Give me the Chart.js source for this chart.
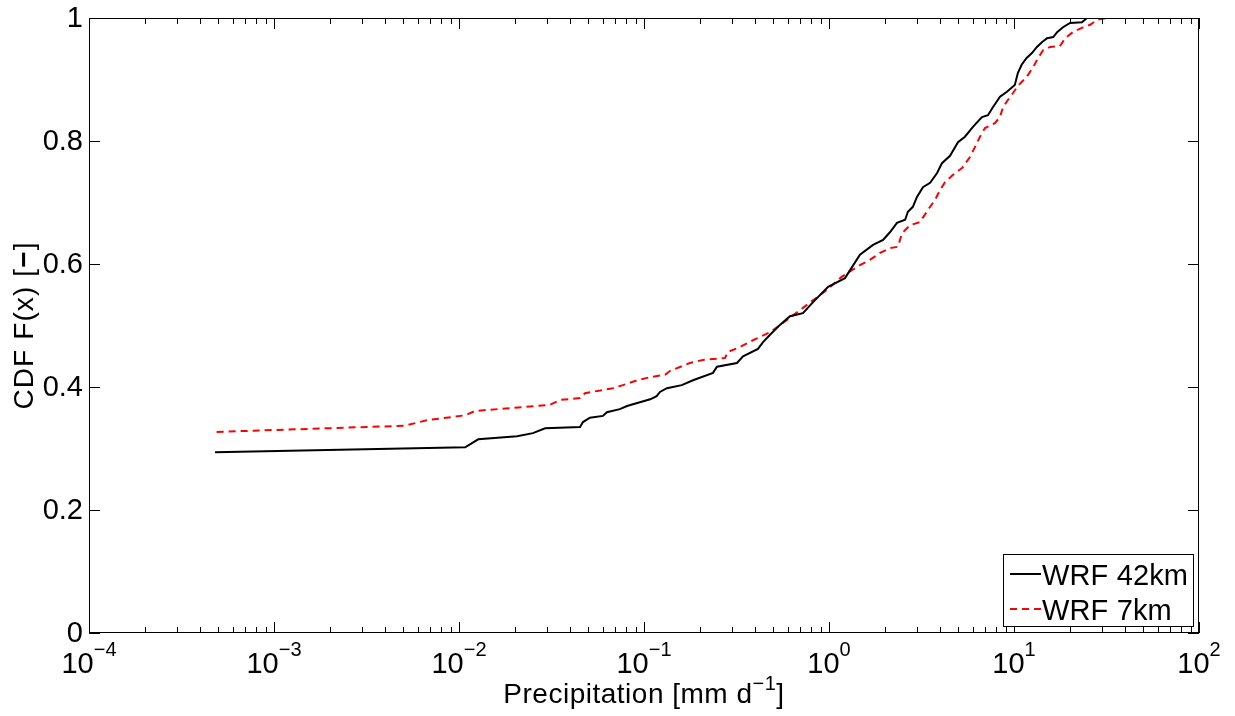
<!DOCTYPE html>
<html>
<head>
<meta charset="utf-8">
<script src="https://cdn.jsdelivr.net/npm/chart.js@4/dist/chart.umd.min.js"></script>
<style>
  html, body { margin: 0; padding: 0; background: #fff; }
  #wrap { width: 1235px; height: 716px; }
</style>
</head>
<body>
<div id="wrap"><canvas id="c" width="1235" height="716"></canvas></div>
<script>
// Empirical CDF of daily precipitation, WRF 42 km run
const precip42 = [0.00048, 0.0108, 0.0127, 0.0206, 0.0251, 0.0292, 0.0451, 0.0468, 0.051, 0.060,
  0.063, 0.074, 0.081, 0.092, 0.108, 0.117, 0.122, 0.133, 0.160, 0.184,
  0.236, 0.248, 0.318, 0.343, 0.413, 0.440, 0.480, 0.543, 0.615, 0.723,
  0.820, 0.989, 1.22, 1.30, 1.47, 1.73, 1.96, 2.14, 2.33, 2.58,
  2.67, 2.84, 2.99, 3.22, 3.52, 3.84, 4.08, 4.51, 4.98, 5.43,
  6.00, 6.71, 7.23, 7.69, 8.40, 9.16, 10.1, 10.5, 11.0, 11.7,
  12.5, 13.3, 14.2, 15.1, 16.3, 17.1, 18.4, 20.1, 23.3, 24.8];
const cdf42 = [0.294, 0.302, 0.315, 0.320, 0.325, 0.333, 0.335, 0.343, 0.350, 0.353,
  0.359, 0.364, 0.369, 0.374, 0.380, 0.385, 0.392, 0.398, 0.403, 0.411,
  0.423, 0.433, 0.439, 0.450, 0.462, 0.473, 0.485, 0.501, 0.515, 0.520,
  0.538, 0.563, 0.577, 0.590, 0.615, 0.631, 0.639, 0.652, 0.667, 0.672,
  0.685, 0.693, 0.709, 0.725, 0.732, 0.748, 0.764, 0.776, 0.798, 0.807,
  0.823, 0.839, 0.842, 0.855, 0.872, 0.880, 0.891, 0.911, 0.924, 0.935,
  0.943, 0.953, 0.961, 0.967, 0.969, 0.977, 0.985, 0.992, 0.993, 1.0];

// Empirical CDF of daily precipitation, WRF 7 km run
const precip7 = [0.00049, 0.0051, 0.0067, 0.0108, 0.0122, 0.0310, 0.0352, 0.0451, 0.048, 0.068,
  0.077, 0.092, 0.108, 0.130, 0.138, 0.177, 0.208, 0.274, 0.284, 0.330,
  0.388, 0.480, 0.593, 0.697, 0.820, 0.975, 1.17, 1.33, 1.47, 1.67,
  1.89, 2.14, 2.36, 2.48, 2.74, 3.10, 3.43, 3.74, 3.98, 4.24,
  4.68, 5.24, 5.78, 6.15, 6.55, 6.97, 7.89, 8.40, 8.73, 9.29,
  9.88, 10.4, 11.0, 11.7, 12.7, 13.5, 14.4, 15.7, 17.7, 18.9,
  20.8, 23.3, 25.8, 28.1, 31.8];
const cdf7 = [0.327, 0.337, 0.346, 0.354, 0.361, 0.371, 0.379, 0.382, 0.390, 0.398,
  0.403, 0.411, 0.416, 0.420, 0.426, 0.439, 0.444, 0.447, 0.457, 0.465,
  0.476, 0.489, 0.509, 0.525, 0.541, 0.558, 0.579, 0.590, 0.598, 0.607,
  0.618, 0.626, 0.628, 0.650, 0.663, 0.668, 0.688, 0.704, 0.720, 0.733,
  0.745, 0.756, 0.774, 0.790, 0.807, 0.821, 0.829, 0.839, 0.855, 0.867,
  0.878, 0.888, 0.896, 0.904, 0.920, 0.935, 0.948, 0.953, 0.954, 0.967,
  0.977, 0.984, 0.989, 0.997, 1.0];

// Axis ticks and labels
const xExponents = [-4, -3, -2, -1, 0, 1, 2];
const yTicks = [0, 0.2, 0.4, 0.6, 0.8, 1];
const yTickLabels = ['0', '0.2', '0.4', '0.6', '0.8', '1'];
const seriesNames = ['WRF 42km', 'WRF 7km'];
const seriesColors = ['#000000', '#ff0000'];

const FONT = '"Liberation Sans", Arial, Helvetica, sans-serif';
const toPoints = (xs, ys) => xs.map((x, i) => ({ x: x, y: ys[i] }));

// Spread a string's glyphs so that it spans a given width
function spacingFor(ctx, text, width) {
  if (!('letterSpacing' in ctx)) return 0;
  ctx.letterSpacing = '0px';
  const w = ctx.measureText(text).width;
  return Math.max(0, (width - w) / Math.max(1, text.length - 1));
}

// Boxed axes with inward ticks, super-scripted decade labels, titles and legend
const boxedAxes = {
  id: 'boxedAxes',
  afterDatasetsDraw(chart) {
    const ctx = chart.ctx;
    const { left, right, top, bottom } = chart.chartArea;
    const xs = chart.scales.x, ys = chart.scales.y;
    const hasLS = 'letterSpacing' in ctx;
    ctx.save();
    ctx.strokeStyle = '#000';
    ctx.fillStyle = '#000';
    ctx.lineWidth = 1;

    // x ticks: majors at decades, minors at 2..9
    ctx.beginPath();
    for (let e = xExponents[0]; e <= xExponents[xExponents.length - 1]; e++) {
      const kMax = e === xExponents[xExponents.length - 1] ? 1 : 9;
      for (let k = 1; k <= kMax; k++) {
        const v = k * Math.pow(10, e);
        const px = Math.round(xs.getPixelForValue(v)) + 0.5;
        const len = k === 1 ? 11 : 6;
        ctx.moveTo(px, bottom); ctx.lineTo(px, bottom - len);
        ctx.moveTo(px, top); ctx.lineTo(px, top + len);
      }
    }
    // y ticks
    yTicks.forEach(v => {
      const py = Math.round(ys.getPixelForValue(v)) + 0.5;
      ctx.moveTo(left, py); ctx.lineTo(left + 11, py);
      ctx.moveTo(right, py); ctx.lineTo(right - 11, py);
    });
    ctx.stroke();

    // frame
    ctx.strokeRect(Math.round(left) + 0.5, Math.round(top) + 0.5,
      Math.round(right - left) - 1, Math.round(bottom - top) - 1);

    // y tick labels
    ctx.font = '29px ' + FONT;
    ctx.textAlign = 'right';
    ctx.textBaseline = 'middle';
    yTicks.forEach((v, i) => {
      ctx.fillText(yTickLabels[i], left - 6, ys.getPixelForValue(v) + 1);
    });

    // x tick labels: 10^e
    ctx.textBaseline = 'alphabetic';
    ctx.textAlign = 'left';
    xExponents.forEach(e => {
      const base = '10';
      const sup = e < 0 ? '\u2212' + Math.abs(e) : String(e);
      ctx.font = '29px ' + FONT;
      const wb = ctx.measureText(base).width;
      ctx.font = '20px ' + FONT;
      const ws = ctx.measureText(sup).width;
      const px = xs.getPixelForValue(Math.pow(10, e));
      const x0 = px - (wb + ws) / 2;
      ctx.font = '29px ' + FONT;
      ctx.fillText(base, x0, 673);
      ctx.font = '20px ' + FONT;
      ctx.fillText(sup, x0 + wb, 656);
    });

    // x axis title, spread to a width of about 286 px
    const t1 = 'Precipitation [mm d', t2 = '\u22121', t3 = ']';
    ctx.font = '28px ' + FONT;
    const ls1 = spacingFor(ctx, t1 + 'xx]', 286);
    if (hasLS) ctx.letterSpacing = ls1 + 'px';
    const w1 = ctx.measureText(t1).width, w3 = ctx.measureText(t3).width;
    ctx.font = '20px ' + FONT;
    const w2 = ctx.measureText(t2).width;
    let tx = (left + right) / 2 - (w1 + w2 + w3) / 2;
    ctx.font = '28px ' + FONT;
    ctx.fillText(t1, tx, 703);
    ctx.font = '20px ' + FONT;
    ctx.fillText(t2, tx + w1, 690);
    ctx.font = '28px ' + FONT;
    ctx.fillText(t3, tx + w1 + w2, 703);
    if (hasLS) ctx.letterSpacing = '0px';

    // y axis title
    ctx.save();
    ctx.translate(33, (top + bottom) / 2);
    ctx.rotate(-Math.PI / 2);
    const y1 = 'CDF F(x) [', y2 = '\u2212', y3 = ']';
    ctx.font = '28px ' + FONT;
    const ls2 = spacingFor(ctx, y1 + '-]', 160);
    if (hasLS) ctx.letterSpacing = ls2 + 'px';
    const v1 = ctx.measureText(y1).width, v3 = ctx.measureText(y3).width;
    ctx.font = 'bold 28px ' + FONT;
    const v2 = ctx.measureText(y2).width;
    let ty = -(v1 + v2 + v3) / 2;
    ctx.font = '28px ' + FONT;
    ctx.fillText(y1, ty, 0);
    ctx.font = 'bold 28px ' + FONT;
    ctx.fillText(y2, ty + v1, 0);
    ctx.font = '28px ' + FONT;
    ctx.fillText(y3, ty + v1 + v2, 0);
    if (hasLS) ctx.letterSpacing = '0px';
    ctx.restore();

    // legend
    const lx = 1003.5, ly = 554.5, lw = 190, lh = 72;
    ctx.fillStyle = '#fff';
    ctx.fillRect(lx, ly, lw, lh);
    ctx.strokeStyle = '#000';
    ctx.lineWidth = 1;
    ctx.strokeRect(lx, ly, lw, lh);
    const rows = [{ y: 574, base: 585 }, { y: 609, base: 620 }];
    ctx.font = '29px ' + FONT;
    const lsL = spacingFor(ctx, seriesNames[0], 146);
    chart.data.datasets.forEach((ds, i) => {
      ctx.strokeStyle = ds.borderColor;
      ctx.lineWidth = 2;
      ctx.setLineDash(ds.borderDash || []);
      ctx.beginPath();
      ctx.moveTo(1010, rows[i].y);
      ctx.lineTo(1041, rows[i].y);
      ctx.stroke();
      ctx.setLineDash([]);
      ctx.fillStyle = '#000';
      ctx.font = '29px ' + FONT;
      if (hasLS) ctx.letterSpacing = lsL + 'px';
      ctx.textAlign = 'left';
      ctx.fillText(ds.label, 1042, rows[i].base);
      if (hasLS) ctx.letterSpacing = '0px';
    });
    ctx.restore();
  }
};

new Chart(document.getElementById('c'), {
  type: 'line',
  data: {
    datasets: [
      {
        label: seriesNames[0],
        data: toPoints(precip42, cdf42),
        borderColor: seriesColors[0],
        borderWidth: 2,
        pointRadius: 0,
        tension: 0,
        fill: false
      },
      {
        label: seriesNames[1],
        data: toPoints(precip7, cdf7),
        borderColor: seriesColors[1],
        borderWidth: 2,
        borderDash: [7, 5],
        pointRadius: 0,
        tension: 0,
        fill: false
      }
    ]
  },
  options: {
    responsive: false,
    animation: false,
    devicePixelRatio: 1,
    layout: { padding: { left: 89, top: 18, right: 36, bottom: 83 } },
    plugins: { legend: { display: false }, tooltip: { enabled: false } },
    scales: {
      x: { type: 'logarithmic', min: 1e-4, max: 1e2, display: false },
      y: { type: 'linear', min: 0, max: 1, display: false }
    }
  },
  plugins: [boxedAxes]
});
</script>
</body>
</html>
